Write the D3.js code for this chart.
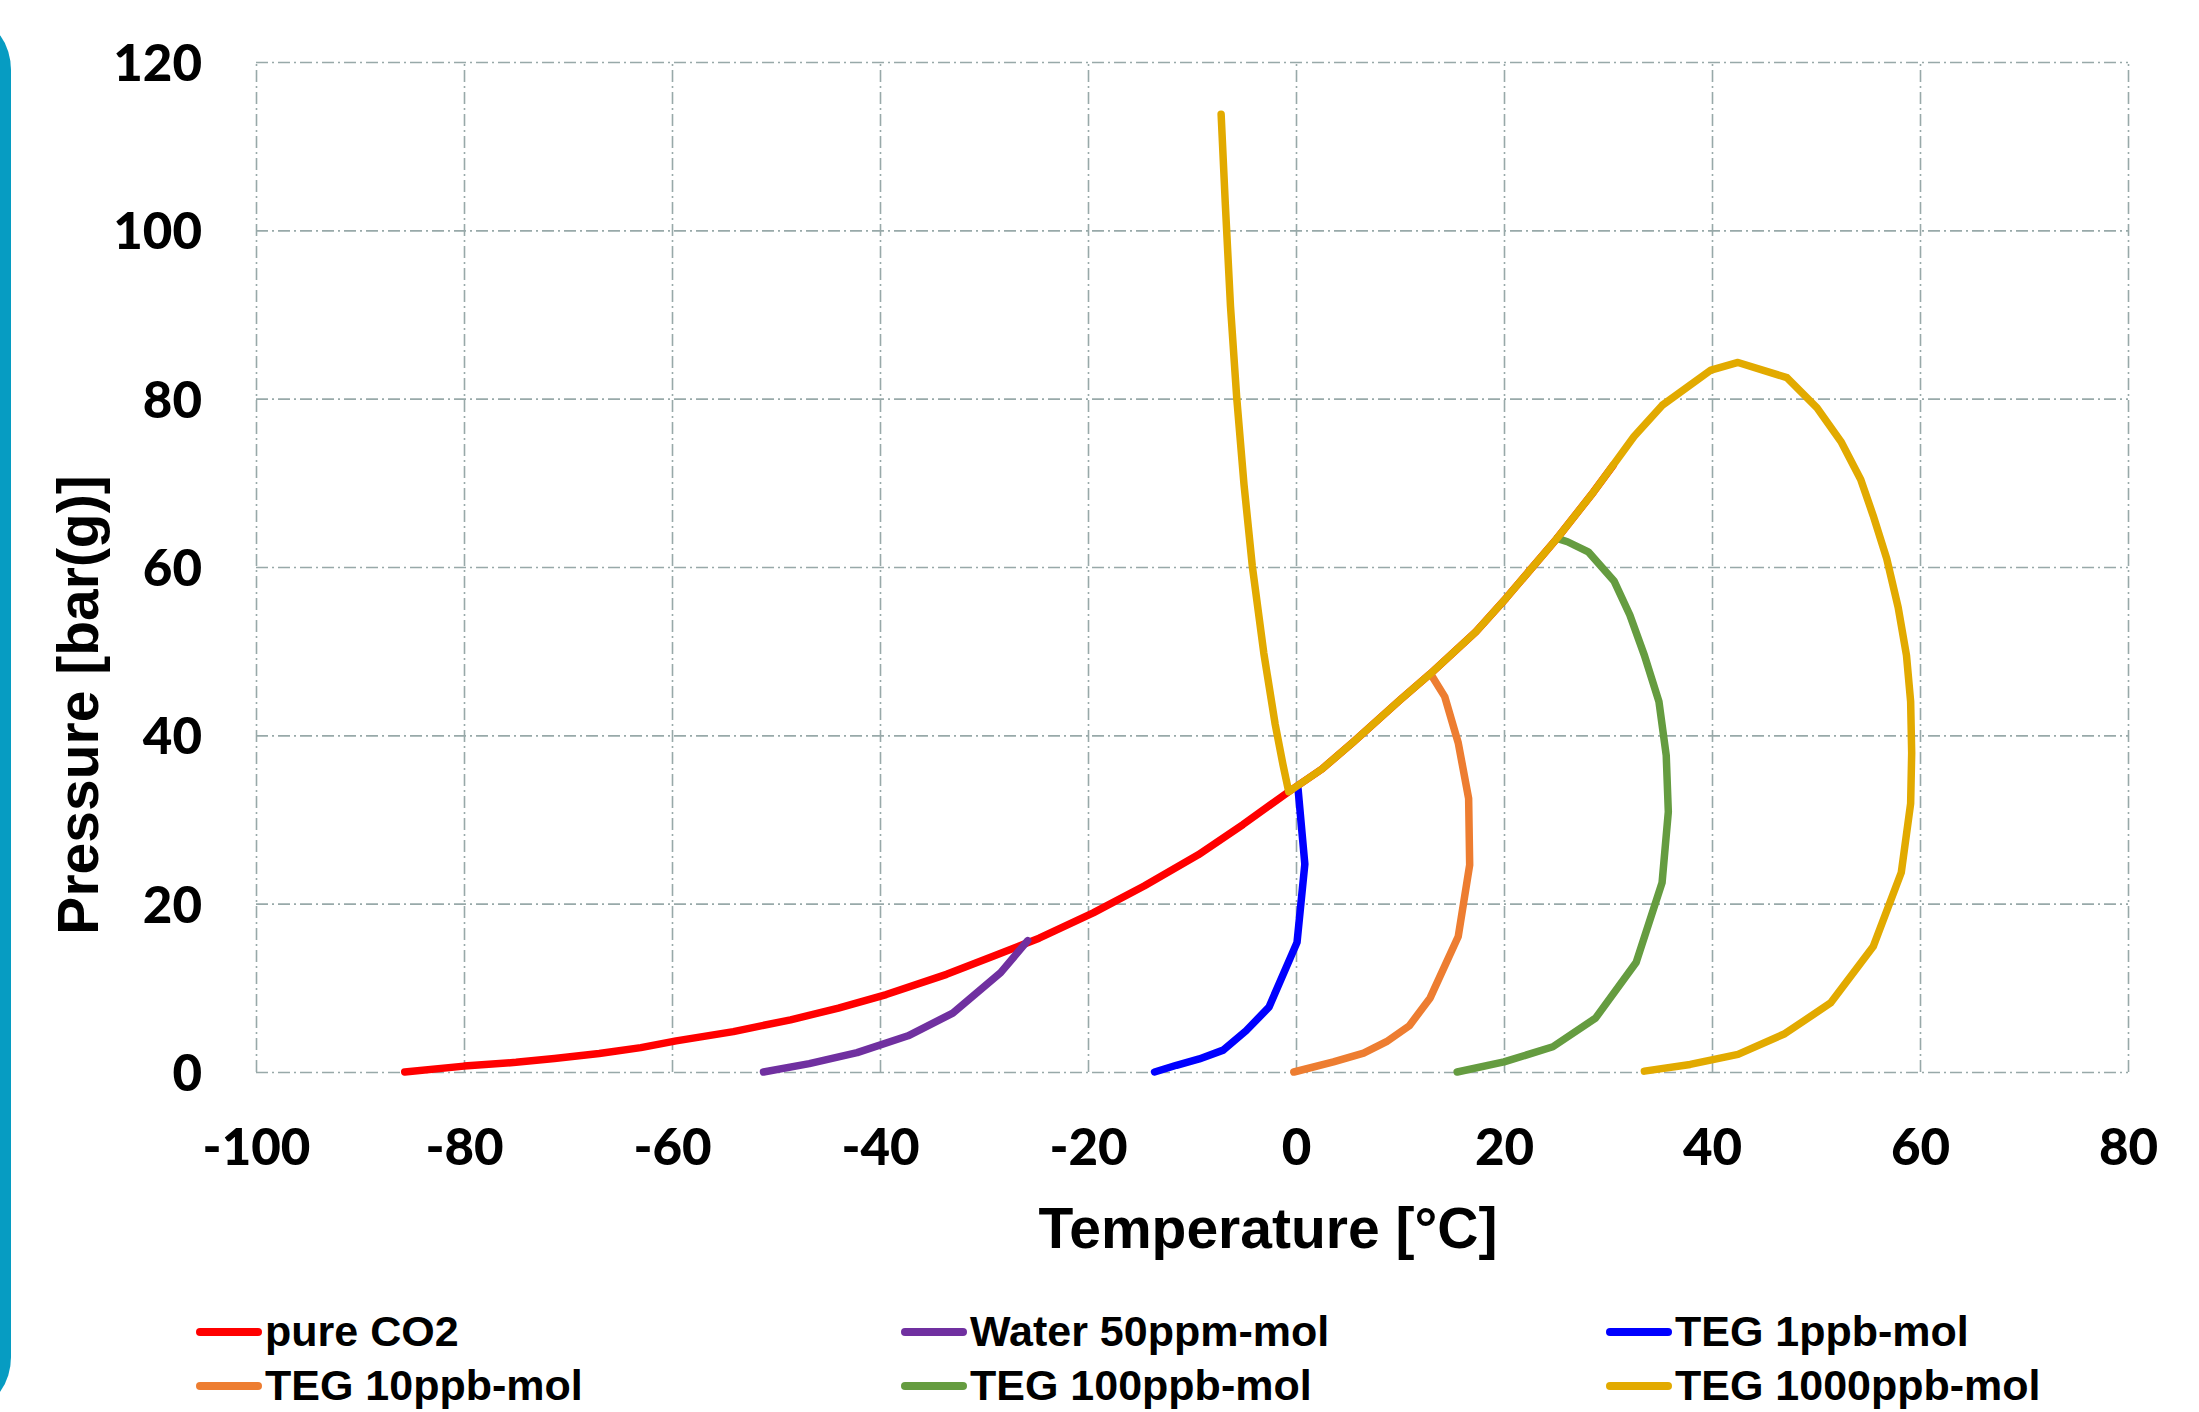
<!DOCTYPE html>
<html>
<head>
<meta charset="utf-8">
<script src="https://cdn.jsdelivr.net/npm/d3@7"></script>
<style>
  body { margin: 0; background: #fff; }
  .tick text { font-family: Lato, "Open Sans", sans-serif; font-weight: 900; fill: #000; }
  .title { font-family: "Liberation Sans", Arial, sans-serif; font-weight: 700; fill: #000; }
</style>
</head>
<body>
<div class="canvas"></div>
<script>
/////////////////////////////////////////////////////
//////////////// chart data (read off) //////////////
/////////////////////////////////////////////////////

const xTicks = [-100, -80, -60, -40, -20, 0, 20, 40, 60, 80];
const yTicks = [0, 20, 40, 60, 80, 100, 120];

const seriesNames = ['pure CO2', 'Water 50ppm-mol', 'TEG 1ppb-mol',
                     'TEG 10ppb-mol', 'TEG 100ppb-mol', 'TEG 1000ppb-mol'];
const seriesColors = ['#ff0000', '#7030a0', '#0000ff', '#ed7d31', '#659c40', '#e2aa00'];

// pure CO2 (runs on under the TEG 1000ppb envelope)
const co2T = [-85.7, -80, -75, -71.3, -67, -63, -59.6, -54.1, -48.6, -44, -39.4, -33.6,
              -29, -24.7, -19.5, -14.6, -9.4, -5.1, -0.7, 2.5, 5.5, 10, 12.9, 17.3, 20.2,
              25.1, 28.6, 30.5];
const co2P = [0, 0.7, 1.15, 1.6, 2.2, 2.9, 3.7, 4.8, 6.2, 7.6, 9.2, 11.6,
              13.8, 15.9, 18.9, 22.1, 25.8, 29.4, 33.3, 36, 39.2, 44.2, 47.3, 52.3, 56.3,
              63.4, 68.9, 72.1];

const waterT = [-51.2, -46.8, -42.2, -37.3, -33.0, -28.4, -25.8];
const waterP = [0, 1.0, 2.3, 4.3, 7.0, 11.8, 15.6];

const teg1T = [-13.6, -11.5, -9.3, -7.0, -4.8, -2.6, 0.1, 0.85, 0.2];
const teg1P = [0, 0.8, 1.55, 2.6, 4.9, 7.7, 15.4, 24.7, 33.6];

const teg10T = [-0.2, 3.6, 6.5, 8.7, 10.9, 12.9, 15.6, 16.7, 16.6, 15.6, 14.3, 13.1];
const teg10P = [0, 1.2, 2.25, 3.6, 5.5, 8.8, 16.1, 24.6, 32.5, 39.1, 44.6, 47.0];

const teg100T = [15.5, 20.0, 24.7, 28.8, 32.7, 35.2, 35.8, 35.6, 34.9, 33.5, 32.1,
                 30.6, 28.1, 26.1, 25.1];
const teg100P = [0, 1.2, 3.0, 6.4, 13.0, 22.5, 30.9, 37.6, 44.0, 49.5, 54.3,
                 58.3, 61.8, 63.0, 63.4];

const teg1000T = [-7.2, -6.8, -6.3, -5.7, -5.0, -4.2, -3.1, -2.0, -1.25, -0.7,
                  2.5, 5.5, 10, 12.9, 17.3, 20.2, 25.1, 28.6, 32.5, 35.2, 39.9, 42.5,
                  47.2, 50.1, 52.4, 54.3, 55.5, 56.8, 57.9, 58.7, 59.1, 59.2, 59.1,
                  58.2, 55.5, 51.4, 47.0, 42.5, 37.9, 33.5];
const teg1000P = [113.8, 103.2, 91.0, 80.1, 69.8, 60.1, 49.8, 41.3, 36.5, 33.3,
                  36, 39.2, 44.2, 47.3, 52.3, 56.3, 63.4, 68.9, 75.5, 79.2, 83.4, 84.3,
                  82.5, 78.9, 74.9, 70.4, 66.1, 61.0, 55.2, 49.5, 44.0, 37.9, 31.9,
                  23.7, 14.9, 8.2, 4.55, 2.1, 0.9, 0.1];

// zip T / P lists into point objects for each series
const zip = (ts, ps) => ts.map((t, i) => ({ t: t, p: ps[i] }));
const series = [
    zip(co2T, co2P), zip(waterT, waterP), zip(teg1T, teg1P),
    zip(teg10T, teg10P), zip(teg100T, teg100P), zip(teg1000T, teg1000P)
].map((pts, i) => ({ name: seriesNames[i], color: seriesColors[i], points: pts }));

/////////////////////////////////////////////////////
//////////////// svg + plot area ////////////////////
/////////////////////////////////////////////////////

const dims = { width: 2199, height: 1412 };
const plot = { left: 256, top: 62, right: 2128, bottom: 1072 };

const svg = d3.select('.canvas')
    .append('svg')
    .attr('width', dims.width)
    .attr('height', dims.height);

// blue strip down the left edge of the slide
svg.append('rect')
    .attr('x', -60).attr('y', 22)
    .attr('width', 71).attr('height', 1383)
    .attr('rx', 48)
    .attr('fill', '#069cc2');

const x = d3.scaleLinear().domain([-100, 80]).range([plot.left, plot.right]);
const y = d3.scaleLinear().domain([0, 120]).range([plot.bottom, plot.top]);

/////////////////////////////////////////////////////
//////////////// axes + dash-dot grid ///////////////
/////////////////////////////////////////////////////

const xAxis = svg.append('g')
    .attr('transform', `translate(0, ${plot.bottom})`)
    .call(d3.axisBottom(x)
        .tickValues(xTicks)
        .tickSize(-(plot.bottom - plot.top))
        .tickFormat(d3.format('d')));

const yAxis = svg.append('g')
    .attr('transform', `translate(${plot.left}, 0)`)
    .call(d3.axisLeft(y)
        .tickValues(yTicks)
        .tickSize(-(plot.right - plot.left))
        .tickFormat(d3.format('d')));

[xAxis, yAxis].forEach(ax => {
    ax.select('.domain').remove();
    ax.selectAll('.tick line')
        .attr('stroke', '#98a9a9')
        .attr('stroke-width', 1.6)
        .attr('stroke-dasharray', '12 4 2 4');
});

// d3 puts a unicode minus in; the reference uses a plain hyphen
xAxis.selectAll('.tick text')
    .text(d => String(d))
    .attr('y', 93).attr('dy', 0)
    .style('font-size', '51px');

yAxis.selectAll('.tick text')
    .attr('x', -54).attr('dy', '0.36em')
    .style('font-size', '51px');

/////////////////////////////////////////////////////
//////////////// axis titles ////////////////////////
/////////////////////////////////////////////////////

svg.append('text')
    .attr('class', 'title')
    .attr('x', 1268).attr('y', 1248)
    .attr('text-anchor', 'middle')
    .style('font-size', '57px')
    .text('Temperature [°C]');

svg.append('text')
    .attr('class', 'title')
    .attr('transform', 'translate(98, 705) rotate(-90)')
    .attr('text-anchor', 'middle')
    .style('font-size', '57px')
    .text('Pressure [bar(g)]');

/////////////////////////////////////////////////////
//////////////// the curves /////////////////////////
/////////////////////////////////////////////////////

const line = d3.line()
    .x(d => x(d.t))
    .y(d => y(d.p));

svg.append('g')
    .selectAll('path')
    .data(series)
    .enter()
    .append('path')
    .attr('d', d => line(d.points))
    .attr('fill', 'none')
    .attr('stroke', d => d.color)
    .attr('stroke-width', 7.5)
    .attr('stroke-linejoin', 'round')
    .attr('stroke-linecap', 'round');

/////////////////////////////////////////////////////
//////////////// legend (3 columns x 2 rows) ////////
/////////////////////////////////////////////////////

const legend = svg.append('g');
const legendCols = [200, 905, 1610];
const legendRows = [1332, 1386];

const items = legend.selectAll('g')
    .data(series)
    .enter()
    .append('g')
    .attr('transform', (d, i) =>
        `translate(${legendCols[i % 3]}, ${legendRows[Math.floor(i / 3)]})`);

items.append('line')
    .attr('x1', 0).attr('x2', 58)
    .attr('stroke', d => d.color)
    .attr('stroke-width', 8)
    .attr('stroke-linecap', 'round');

items.append('text')
    .attr('class', 'title')
    .attr('x', 65).attr('y', 14)
    .style('font-size', '43px')
    .text(d => d.name);
</script>
</body>
</html>
